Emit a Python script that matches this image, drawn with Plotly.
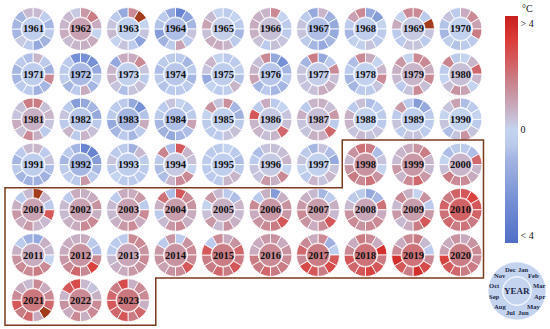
import math
import plotly.graph_objects as go
from plotly.colors import sample_colorscale

# ---------------- data ----------------
years = list(range(1961, 2024))
months = ["Jan", "Feb", "Mar", "Apr", "May", "Jun", "Jul", "Aug", "Sep", "Oct", "Nov", "Dec"]

# monthly temperature anomalies (°C), Jan..Dec, one row per year
monthly = [
    [0.5, -0.3, -1.0, -0.5, -1.2, -1.5, -0.5, 0.2, -1.0, -1.0, -1.0, 0.5],   # 1961
    [1.2, 1.8, 0.8, 0.0, 0.8, 0.7, 0.6, 0.5, 0.8, 0.6, 0.5, 0.2],            # 1962
    [1.5, 5.0, 0.0, 0.3, -1.8, -0.5, 0.3, 0.0, 0.5, 0.3, -0.5, -1.5],        # 1963
    [-3.0, -1.8, -1.0, 0.3, -0.5, 1.0, -0.5, -1.2, -2.0, -0.7, -0.5, -1.5],  # 1964
    [-0.5, 0.0, -0.5, -1.0, -0.5, 0.6, 0.8, 0.8, 0.4, 1.0, 0.5, 0.0],        # 1965
    [1.5, 0.0, -0.5, -0.5, 0.3, 0.4, -0.5, 0.4, 0.7, 0.8, 0.7, 0.6],         # 1966
    [0.6, -1.2, -1.5, -1.5, -1.0, -1.5, -1.0, -0.5, 0.3, 0.3, -0.5, -1.5],   # 1967
    [-1.5, -2.0, 0.0, -0.5, -0.5, 0.3, -0.2, -0.2, -1.0, -0.5, 1.0, 1.5],    # 1968
    [1.5, -0.5, 5.0, 0.3, -0.5, 0.3, 0.3, -0.5, -0.5, 0.8, 0.0, 1.5],        # 1969
    [0.8, 1.5, 1.0, 1.8, -0.5, -0.5, -0.7, -0.3, -1.0, -0.7, 0.3, -0.5],     # 1970
    [0.6, -0.5, -1.2, 1.5, -1.0, -1.2, -0.5, -0.5, -1.0, -1.0, -0.5, -0.8],  # 1971
    [-2.5, -2.5, -1.5, -0.5, -1.0, 0.8, -0.5, -1.0, -0.3, -0.5, -0.5, -2.5], # 1972
    [0.8, 1.5, 0.3, -0.5, 0.4, 0.3, -0.8, 0.3, 0.6, 0.6, -1.5, 0.8],         # 1973
    [-0.5, -1.0, -0.5, -1.0, -0.5, -0.5, -0.5, -0.7, -0.5, -0.8, -0.5, -0.5],# 1974
    [-0.5, -0.5, -0.3, -0.7, 0.6, -0.3, -0.5, 0.0, -1.5, 0.3, 0.6, 0.0],     # 1975
    [-1.5, -2.5, -1.0, -0.5, -1.0, -1.0, -0.5, -1.0, 1.0, 0.6, 0.4, 1.5],    # 1976
    [-1.5, -0.5, 1.5, 0.4, 0.7, 0.8, 0.4, 0.3, 0.3, 0.3, -1.0, 1.8],         # 1977
    [0.8, 0.0, 0.6, 1.5, 0.3, -0.5, -0.5, -1.0, -1.0, -0.5, -0.8, 1.5],      # 1978
    [1.5, 1.5, 0.8, 1.5, 0.4, 1.5, 0.3, -0.5, 0.5, 0.7, 1.2, 0.0],           # 1979
    [0.0, 0.6, 2.2, 0.6, 0.0, 1.0, 1.3, 0.4, 0.0, -0.5, 1.6, -0.5],          # 1980
    [1.8, 0.4, 0.6, 0.3, -0.5, 0.7, 1.5, 0.4, 0.8, 0.3, 0.4, 1.8],           # 1981
    [-1.5, -1.0, -1.5, -0.5, 0.4, 0.6, -0.5, 0.6, -0.5, 0.3, -0.5, -2.0],    # 1982
    [-1.5, -2.5, -0.7, 0.8, -0.5, -1.0, -0.5, -1.0, -1.5, -0.5, -0.5, -0.5], # 1983
    [0.0, -0.5, -0.5, 1.0, -0.8, -1.0, -1.5, -1.2, -1.0, -0.5, -0.5, 0.3],   # 1984
    [1.4, -1.0, -1.2, -0.5, 0.4, 0.3, -0.5, -0.5, -0.5, 0.0, 1.3, 0.3],      # 1985
    [-0.5, 0.0, 0.3, 0.4, 2.2, 0.6, 0.4, 0.6, 0.6, 2.5, -0.5, 0.8],          # 1986
    [0.7, 0.4, 1.2, -0.5, 2.2, 0.8, 0.7, 0.3, 0.3, 0.7, -0.5, 0.6],          # 1987
    [-0.8, -0.5, -0.5, -0.5, 0.3, 0.3, 0.5, 0.3, 0.6, 0.7, -0.5, 0.4],       # 1988
    [-2.0, -1.5, -0.5, -0.5, -0.5, 0.3, 0.3, -0.5, 0.3, -0.5, 1.2, -0.5],    # 1989
    [-0.8, -0.5, 0.0, -0.5, 0.3, 1.3, 0.3, -0.8, 0.3, 0.0, 0.3, 1.0],        # 1990
    [0.6, -0.5, 0.3, -0.8, -1.2, -1.2, -1.2, -1.0, -0.5, -1.0, -0.5, 0.5],   # 1991
    [-3.0, -3.0, -2.0, -1.0, -0.5, 1.2, -0.5, -0.3, -0.5, -1.0, -0.5, -1.0], # 1992
    [-1.2, 0.5, -0.5, -0.5, -0.5, -0.5, -0.5, 0.0, -0.5, 0.3, -0.5, -0.5],   # 1993
    [2.5, 0.6, 0.4, 0.0, 1.5, 1.5, 0.6, -0.8, -0.8, -0.5, 1.6, -0.8],        # 1994
    [0.0, -0.5, -0.8, -0.5, 0.6, 0.6, -0.5, -0.5, -0.5, -0.5, -0.5, -0.5],   # 1995
    [0.4, 0.4, 0.6, 0.0, 1.5, 0.7, 1.2, 0.3, 0.3, -0.5, -0.8, 0.3],          # 1996
    [0.3, -0.8, -1.5, 0.3, 0.6, 0.3, 0.6, -0.5, 0.0, 0.3, -0.5, -1.0],       # 1997
    [1.8, -0.8, 0.3, 0.0, 1.3, 2.0, 1.5, 1.8, 1.3, 0.5, 1.3, 2.0],           # 1998
    [1.3, 1.8, 0.6, 0.5, 1.2, 2.2, 1.5, 0.6, 1.2, 0.5, 0.6, 0.8],            # 1999
    [-0.5, -0.8, 2.2, 0.6, 0.8, 1.5, 1.5, 1.8, 0.4, 0.0, -0.8, -0.5],        # 2000
    [5.0, 0.6, -0.5, 2.5, 0.5, 0.6, 1.2, 0.8, 1.2, 0.7, -0.5, 0.5],          # 2001
    [0.7, 0.8, 1.3, 0.7, 1.5, 1.5, 0.8, 0.7, 0.5, 0.5, -0.5, 0.8],           # 2002
    [0.8, 1.2, -0.5, 1.5, 0.8, 1.5, 1.2, 0.7, 0.5, 0.5, -0.5, 0.8],          # 2003
    [2.5, 1.5, 1.3, 0.8, 0.7, 1.5, 1.2, 0.5, -0.5, 0.7, 2.0, -0.8],          # 2004
    [-0.5, -0.8, 0.6, 0.5, 0.7, 1.3, 0.5, 1.2, 0.4, 0.0, 1.2, 0.5],          # 2005
    [-2.0, 0.7, 1.3, 1.2, 2.5, 1.8, 1.5, 1.3, 0.8, 1.5, -0.5, 0.7],          # 2006
    [-1.0, -0.5, 0.7, 0.5, 2.5, 1.5, 0.8, 1.3, 1.5, 1.2, 0.7, 0.5],          # 2007
    [-1.5, -1.0, 2.0, 0.8, 1.5, 1.5, 1.3, 1.5, 1.3, 0.5, -0.5, -0.5],        # 2008
    [0.0, 1.3, -0.5, 1.2, 2.5, 1.8, 0.8, 0.5, 1.2, 0.5, 1.5, 0.7],           # 2009
    [2.5, 3.0, 2.5, 2.3, 1.8, 2.0, 1.8, 2.2, 2.0, 2.3, 1.8, 2.3],            # 2010
    [-1.5, 0.7, 0.5, 0.0, 1.5, 1.8, 1.5, 1.5, 1.3, 0.7, -0.5, -1.2],         # 2011
    [0.8, -0.5, -0.8, 1.5, 3.0, 1.5, 2.2, 1.5, 1.2, 0.8, 0.8, 0.7],          # 2012
    [1.5, 1.5, 1.3, 1.5, 1.3, 1.2, 0.8, 0.7, 0.5, -0.5, -0.5, -0.5],         # 2013
    [-0.5, 1.3, 1.5, 1.5, 2.5, 1.5, 1.3, 1.0, 1.3, 1.2, -0.5, 1.2],          # 2014
    [0.8, 1.3, 2.2, 1.8, 2.5, 1.8, 2.2, 1.8, 1.8, 2.5, -0.5, 1.5],           # 2015
    [1.3, 0.8, 1.3, 1.5, 1.8, 1.8, 2.2, 1.8, 1.8, 0.8, 0.8, 1.2],            # 2016
    [1.5, -1.2, -0.3, 2.5, 2.8, 1.8, 2.5, 2.8, 1.5, 2.2, 1.5, 0.8],          # 2017
    [1.5, 0.8, 3.5, 1.8, 2.5, 3.0, 2.5, 2.2, 2.5, 1.5, 0.8, 1.8],            # 2018
    [1.8, 0.5, -0.5, 1.5, 2.8, 3.5, 1.8, 2.5, 3.5, 1.5, 0.8, 1.5],           # 2019
    [0.8, 1.3, 1.5, 1.5, 1.8, 1.8, 2.2, 2.5, 3.0, 1.0, 0.8, 1.3],            # 2020
    [1.5, 0.8, 1.5, 2.2, 4.5, 0.8, 2.2, 1.8, 2.5, 1.5, 0.8, 0.5],            # 2021
    [0.5, 0.3, 0.7, 1.5, 1.5, 0.7, 1.5, 0.8, 1.3, 0.6, 2.5, 2.8],            # 2022
    [0.7, 1.5, 1.5, 0.7, 2.2, 1.8, 2.5, 2.2, 2.5, 2.2, 1.8, 2.8],            # 2023
]

# annual anomalies (centre disk)
annual = [
    -0.3, 1.0, -0.2, -0.8, 0.1, 0.4, -0.8, -0.3, 0.2, -0.1,
    -0.4, -0.9, -0.2, -0.6, -0.4, -0.6, 0.1, -0.1, 0.6, 0.4,
    0.7, -0.6, -1.0, -0.8, -0.2, 0.2, 0.4, 0.0, -0.3, 0.0,
    -0.4, -1.0, -0.4, 0.2, -0.3, 0.2, -0.2, 1.3, 1.2, 0.6,
    1.0, 1.0, 1.0, 1.1, 0.7, 1.2, 1.1, 0.9, 1.1, 2.3,
    0.8, 1.3, 0.9, 1.3, 1.8, 1.5, 1.8, 2.0, 2.0, 1.8,
    1.9, 1.5, 1.9,
]

cbar_ticks = [-3.75, 0, 3.75]
cbar_ticktext = ["< 4", "0", "> 4"]

# ---------------- style ----------------
W, H = 550, 329
VMIN, VMAX = -4.0, 4.0
scale_pts = [
    (-4.0, "#4f6fc6"), (-2.5, "#7690d6"), (-1.0, "#a6b6e2"), (-0.5, "#bccbeb"),
    (0.0, "#c4d3ee"), (0.3, "#c6c4dc"), (0.7, "#c8b0c4"), (1.2, "#c898a6"),
    (1.8, "#ca7c84"), (2.5, "#d4585a"), (3.2, "#da3a36"), (4.0, "#c81e1e"),
]
colorscale = [[(v - VMIN) / (VMAX - VMIN), c] for v, c in scale_pts]
OVER = "#a23c1c"


def col(v):
    if v > VMAX:
        return OVER
    t = (min(max(v, VMIN), VMAX) - VMIN) / (VMAX - VMIN)
    return sample_colorscale(colorscale, [t])[0]


X0, DX = 33.0, 47.5
Y0, DY = 29.0, 45.2
R_OUT = 21.5
HOLE = 0.56
FONT = "Liberation Serif, Times New Roman, serif"


def dom(cx, cy, r):
    return dict(x=[(cx - r) / W, (cx + r) / W], y=[1 - (cy + r) / H, 1 - (cy - r) / H])


def txt(x, y, text, size, color="#111111"):
    return dict(x=x / W, y=1 - y / H, xref="paper", yref="paper", text=text, showarrow=False,
                xanchor="center", yanchor="middle", font=dict(family=FONT, size=size, color=color))


fig = go.Figure()
annotations = []

for i, yr in enumerate(years):
    r_, c_ = divmod(i, 10)
    cx = X0 + DX * c_
    cy = Y0 + DY * r_
    fig.add_trace(go.Pie(
        values=[1] * 12, labels=months, sort=False, direction="clockwise", rotation=0,
        hole=HOLE, domain=dom(cx, cy, R_OUT), textinfo="none", hoverinfo="skip",
        marker=dict(colors=[col(v) for v in monthly[i]], line=dict(color="white", width=0.8)),
        showlegend=False,
    ))
    fig.add_trace(go.Pie(
        values=[1], labels=[str(yr)], sort=False, domain=dom(cx, cy, R_OUT * HOLE - 0.6),
        textinfo="none", hoverinfo="skip",
        marker=dict(colors=[col(annual[i])], line=dict(color="white", width=0.6)),
        showlegend=False,
    ))
    annotations.append(txt(cx, cy, f"<b>{yr}</b>", 10.5))

# legend donut
LCX, LCY, LR = 517.0, 291.0, 29.0
LBLUE = "#c4d4ee"
fig.add_trace(go.Pie(values=[1], labels=["legend"], hole=0.5, domain=dom(LCX, LCY, LR),
                     textinfo="none", hoverinfo="skip", showlegend=False,
                     marker=dict(colors=[LBLUE], line=dict(color="white", width=0.6))))
fig.add_trace(go.Pie(values=[1], labels=["YEAR"], domain=dom(LCX, LCY, LR * 0.5 - 0.5),
                     textinfo="none", hoverinfo="skip", showlegend=False,
                     marker=dict(colors=[LBLUE], line=dict(color="white", width=0.6))))
for k, m in enumerate(months):
    ang = math.radians(15 + 30 * k)
    rr = LR * 0.78
    mx = LCX + rr * math.sin(ang) * 1.05
    my = LCY - rr * math.cos(ang)
    annotations.append(txt(mx, my, f"<b>{m}</b>", 6.6, "#1c2a4a"))
annotations.append(txt(LCX, LCY, "<b>YEAR</b>", 9, "#1c2a4a"))

# colour bar
CB_X, CB_TOP, CB_BOT = 505.0, 16.0, 243.0
fig.add_trace(go.Scatter(
    x=[0], y=[0], mode="markers", hoverinfo="skip", showlegend=False,
    marker=dict(size=1, opacity=0, color=[0], cmin=VMIN, cmax=VMAX, colorscale=colorscale,
                showscale=True,
                colorbar=dict(x=CB_X / W, xanchor="left", y=1 - (CB_TOP + CB_BOT) / 2 / H, yanchor="middle",
                              lenmode="pixels", len=CB_BOT - CB_TOP, thickness=13, thicknessmode="pixels",
                              outlinewidth=0, ticks="", tickvals=cbar_ticks, ticktext=cbar_ticktext,
                              tickfont=dict(family=FONT, size=10, color="#111111"), xpad=0, ypad=0)),
))
annotations.append(txt(527, 8, "°C", 10))

# outline around the warm period (1998-2023)
xl = X0 - 28
xr = X0 + DX * 9 + 23
xm1 = X0 + DX * 6.5 + 0.5
xm2 = X0 + DX * 2.5 + 4
yt = Y0 + DY * 2.5 - 2
ym1 = Y0 + DY * 3.5 + 0.5
ym2 = Y0 + DY * 5.5 + 0.5
yb = Y0 + DY * 6 + 25
pts = [(xm1, yt), (xr, yt), (xr, ym2), (xm2, ym2), (xm2, yb), (xl, yb), (xl, ym1), (xm1, ym1)]
path = "M " + " L ".join(f"{x / W:.5f},{1 - y / H:.5f}" for x, y in pts) + " Z"
fig.add_shape(type="path", path=path, xref="paper", yref="paper",
              line=dict(color="#7a3a1e", width=1.5), fillcolor="rgba(0,0,0,0)")

fig.update_layout(
    width=W, height=H, margin=dict(l=0, r=0, t=0, b=0, pad=0, autoexpand=False),
    paper_bgcolor="white", plot_bgcolor="white",
    xaxis=dict(visible=False, domain=[0, 0.01]), yaxis=dict(visible=False, domain=[0, 0.01]),
    annotations=annotations,
)

fig.write_html("out.html", config={"displayModeBar": False},
               post_script="document.body.style.margin='0px';document.body.style.overflow='hidden';")
